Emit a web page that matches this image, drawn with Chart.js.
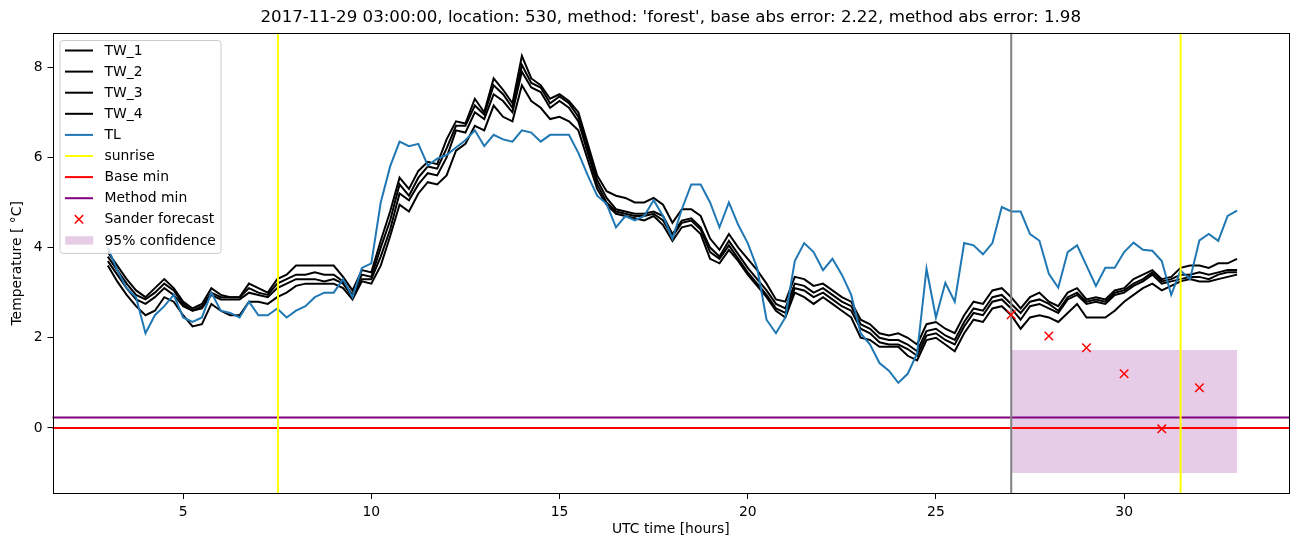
<!DOCTYPE html>
<html>
<head>
<meta charset="utf-8">
<script src="https://cdn.jsdelivr.net/npm/chart.js@4.4.1/dist/chart.umd.min.js"></script>
<style>
  html, body { margin: 0; padding: 0; background: #fff; }
  #wrap { width: 1302px; height: 547px; position: relative; }
</style>
</head>
<body>
<div id="wrap"><canvas id="chart"></canvas></div>
<script>
// time grid (UTC hours, 15 min steps from 03:00 to 33:00)
const hours = Array.from({ length: 121 }, (_, i) => 3 + i * 0.25);

const tw1 = [3.9,3.6,3.3,3.05,2.9,3.1,3.3,3.1,2.8,2.65,2.75,3.1,2.95,2.9,2.9,3.2,3.1,3.0,3.3,3.4,
  3.6,3.6,3.6,3.6,3.6,3.35,3.05,3.5,3.45,4.15,4.8,5.55,5.3,5.7,5.9,5.85,6.4,6.8,6.75,7.3,
  7.0,7.75,7.5,7.2,8.25,7.75,7.6,7.3,7.4,7.25,7.0,6.3,5.6,5.25,5.15,5.1,5.0,5.0,5.1,4.95,
  4.55,4.85,4.85,4.7,4.2,3.95,4.3,4.0,3.75,3.5,3.2,2.85,2.8,3.35,3.3,3.15,3.2,3.05,2.9,2.8,
  2.4,2.3,2.1,2.05,2.1,2.0,1.85,2.3,2.35,2.2,2.1,2.5,2.8,2.75,3.05,3.1,2.9,2.65,2.9,3.0,
  2.8,2.7,3.0,3.1,2.85,2.9,2.85,3.05,3.1,3.3,3.4,3.5,3.3,3.35,3.55,3.6,3.6,3.55,3.65,3.65,3.75];
const tw2 = [3.8,3.5,3.2,2.95,2.85,3.0,3.2,3.05,2.75,2.6,2.7,3.0,2.9,2.9,2.9,3.1,3.0,2.95,3.2,3.3,
  3.4,3.4,3.45,3.4,3.4,3.25,2.95,3.4,3.35,4.0,4.6,5.4,5.15,5.55,5.8,5.75,6.2,6.7,6.7,7.15,
  6.95,7.6,7.4,7.1,8.05,7.65,7.55,7.2,7.35,7.2,6.9,6.2,5.5,5.1,4.85,4.8,4.75,4.75,4.8,4.7,
  4.3,4.6,4.65,4.45,4.0,3.8,4.15,3.85,3.55,3.3,3.05,2.75,2.65,3.2,3.15,3.0,3.1,2.95,2.8,2.7,
  2.3,2.2,2.0,1.95,1.95,1.85,1.7,2.15,2.2,2.05,1.95,2.35,2.65,2.6,2.9,2.95,2.75,2.55,2.8,2.85,
  2.75,2.6,2.9,3.0,2.8,2.85,2.8,3.0,3.05,3.2,3.3,3.45,3.25,3.3,3.4,3.4,3.45,3.4,3.45,3.5,3.5];
const tw3 = [3.7,3.4,3.1,2.85,2.75,2.9,3.1,2.95,2.7,2.6,2.65,2.95,2.85,2.85,2.85,3.0,2.95,2.9,3.1,3.2,
  3.3,3.3,3.3,3.25,3.3,3.2,2.9,3.3,3.3,3.8,4.4,5.2,5.05,5.4,5.65,5.6,6.0,6.6,6.55,7.0,
  6.85,7.4,7.25,7.0,7.9,7.55,7.45,7.1,7.25,7.1,6.8,6.1,5.4,5.0,4.8,4.75,4.7,4.7,4.75,4.6,
  4.25,4.55,4.6,4.4,3.9,3.75,4.05,3.75,3.45,3.2,2.95,2.65,2.55,3.1,3.05,2.9,3.0,2.85,2.7,2.6,
  2.2,2.1,1.9,1.85,1.85,1.75,1.6,2.05,2.1,1.95,1.85,2.25,2.55,2.5,2.8,2.85,2.65,2.4,2.7,2.75,
  2.65,2.55,2.85,2.95,2.75,2.8,2.75,2.95,3.0,3.15,3.25,3.4,3.2,3.25,3.3,3.35,3.35,3.3,3.4,3.45,3.45];
const tw4 = [3.6,3.25,2.95,2.7,2.5,2.6,2.9,2.8,2.5,2.25,2.3,2.75,2.6,2.5,2.5,2.8,2.8,2.75,2.9,3.0,
  3.15,3.2,3.2,3.2,3.2,3.1,2.85,3.25,3.2,3.6,4.25,4.95,4.8,5.2,5.45,5.4,5.6,6.15,6.3,6.7,
  6.6,7.15,6.9,6.8,7.6,7.25,7.1,6.85,6.9,6.8,6.6,5.95,5.3,4.95,4.75,4.7,4.65,4.6,4.7,4.5,
  4.15,4.45,4.5,4.3,3.75,3.65,3.95,3.7,3.4,3.15,2.9,2.6,2.45,3.0,2.9,2.75,2.9,2.75,2.6,2.45,
  2.0,1.95,1.8,1.8,1.8,1.6,1.5,1.95,2.0,1.85,1.7,2.1,2.4,2.35,2.65,2.7,2.5,2.2,2.45,2.5,
  2.45,2.35,2.55,2.75,2.45,2.45,2.45,2.6,2.8,2.95,3.1,3.2,3.05,3.15,3.25,3.3,3.25,3.25,3.3,3.35,3.4];
const tl = [4.0,3.5,3.1,2.9,2.1,2.5,2.7,2.95,2.45,2.35,2.45,3.0,2.6,2.55,2.45,2.8,2.5,2.5,2.65,2.45,
  2.6,2.7,2.9,3.0,3.0,3.3,2.9,3.55,3.65,5.0,5.8,6.35,6.25,6.3,5.82,5.97,6.05,6.22,6.38,6.6,
  6.25,6.5,6.4,6.35,6.6,6.55,6.35,6.5,6.5,6.5,6.1,5.6,5.15,4.97,4.45,4.7,4.6,4.7,5.05,4.7,
  4.2,4.85,5.4,5.4,5.0,4.45,5.0,4.5,4.1,3.55,2.4,2.1,2.45,3.7,4.1,3.9,3.5,3.75,3.4,2.95,
  2.1,1.85,1.44,1.27,1.0,1.2,1.65,3.53,2.45,3.22,2.8,4.1,4.05,3.85,4.1,4.9,4.8,4.8,4.3,4.15,
  3.42,3.11,3.9,4.05,3.6,3.15,3.55,3.55,3.9,4.11,3.95,3.93,3.7,2.95,3.49,3.3,4.16,4.3,4.15,4.7,4.82];

// Sander forecast (hourly, from forecast start)
const forecastHours = [27, 28, 29, 30, 31, 32];
const forecastValues = [2.51, 2.04, 1.78, 1.2, -0.02, 0.89];

// 95% confidence band
const confHours = [27, 33];
const confLow = [-1.0, -1.0];
const confHigh = [1.73, 1.73];

const sunriseHours = [7.52, 31.5];
const forecastStart = 27;
const baseMin = 0.0;
const methodMin = 0.23;

const xTicks = [5, 10, 15, 20, 25, 30];
const yTicks = [0, 2, 4, 6, 8];
const X_MIN = 1.53, X_MAX = 34.38;
const Y_MIN = -1.465, Y_MAX = 8.765;

const FONT = 'DejaVu Sans';
const pts = (xs, ys) => xs.map((x, i) => ({ x: x, y: ys[i] }));

function twLine(label, values) {
  return { label, data: pts(hours, values), borderColor: '#000000', borderWidth: 2,
    pointRadius: 0, order: 6, legendType: 'line' };
}
function vLine(x, color, label, noLegend) {
  return { label, data: [{ x: x, y: Y_MIN - 1 }, { x: x, y: Y_MAX + 1 }], borderColor: color,
    borderWidth: 2, pointRadius: 0, order: 2, legendType: 'line', noLegend };
}
function hLine(y, color, label) {
  return { label, data: [{ x: X_MIN - 1, y: y }, { x: X_MAX + 1, y: y }], borderColor: color,
    borderWidth: 2, pointRadius: 0, order: 3, legendType: 'line' };
}

const datasets = [
  twLine('TW_1', tw1),
  twLine('TW_2', tw2),
  twLine('TW_3', tw3),
  twLine('TW_4', tw4),
  { label: 'TL', data: pts(hours, tl), borderColor: '#1f77b4', borderWidth: 2,
    pointRadius: 0, order: 5, legendType: 'line' },
  vLine(sunriseHours[0], '#ffff00', 'sunrise'),
  vLine(sunriseHours[1], '#ffff00', 'sunrise', true),
  hLine(baseMin, '#ff0000', 'Base min'),
  hLine(methodMin, '#800080', 'Method min'),
  { label: 'Sander forecast', data: pts(forecastHours, forecastValues), showLine: false,
    pointStyle: 'crossRot', pointRadius: 6, pointBorderColor: '#ff0000', pointBorderWidth: 1.5,
    borderColor: '#ff0000', order: 1, legendType: 'marker' },
  { label: '95% confidence', data: pts(confHours, confHigh), borderWidth: 0, pointRadius: 0,
    fill: '+1', backgroundColor: 'rgba(128,0,128,0.2)', order: 20, legendType: 'patch' },
  { label: 'conf low', data: pts(confHours, confLow), borderWidth: 0, pointRadius: 0,
    order: 21, noLegend: true },
  vLine(forecastStart, '#808080', 'forecast start', true)
];

// axes frame + legend box in the upper left of the plot
const framePlugin = {
  id: 'frame',
  afterDraw(chart) {
    const { ctx, chartArea: a } = chart;
    ctx.save();
    ctx.strokeStyle = '#000';
    ctx.lineWidth = 1;
    ctx.strokeRect(Math.round(a.left) + 0.5, Math.round(a.top) + 0.5,
      Math.round(a.right - a.left) - 1, Math.round(a.bottom - a.top) - 1);

    const items = chart.data.datasets.filter(d => d.label && !d.noLegend);
    const x0 = a.left + 7, y0 = a.top + 7.3;
    const rowH = 21.1, w = 161, h = 10.5 + (items.length - 1) * rowH + 12.5;
    ctx.beginPath();
    ctx.roundRect(x0 + 0.5, y0 + 0.5, w, h, 3);
    ctx.fillStyle = 'rgba(255,255,255,0.8)';
    ctx.fill();
    ctx.strokeStyle = '#cccccc';
    ctx.stroke();

    ctx.font = '13.9px "' + FONT + '"';
    ctx.textBaseline = 'middle';
    items.forEach((d, i) => {
      const y = y0 + 10.5 + i * rowH;
      if (d.legendType === 'line') {
        ctx.strokeStyle = d.borderColor;
        ctx.lineWidth = 2;
        ctx.beginPath();
        ctx.moveTo(x0 + 5.5, y);
        ctx.lineTo(x0 + 33.5, y);
        ctx.stroke();
      } else if (d.legendType === 'marker') {
        const cx = x0 + 19.5, r = 4.2;
        ctx.strokeStyle = d.pointBorderColor;
        ctx.lineWidth = 1.5;
        ctx.beginPath();
        ctx.moveTo(cx - r, y - r); ctx.lineTo(cx + r, y + r);
        ctx.moveTo(cx - r, y + r); ctx.lineTo(cx + r, y - r);
        ctx.stroke();
      } else if (d.legendType === 'patch') {
        ctx.fillStyle = d.backgroundColor;
        ctx.fillRect(x0 + 5.7, y - 4.2, 28, 8.4);
      }
      ctx.fillStyle = '#000';
      ctx.fillText(d.label, x0 + 45, y + 0.5);
    });
    ctx.restore();
  }
};

const tickFont = { family: FONT, size: 13.9 };

new Chart(document.getElementById('chart'), {
  type: 'line',
  data: { datasets },
  options: {
    responsive: true,
    maintainAspectRatio: false,
    animation: false,
    parsing: true,
    layout: { padding: { left: 0, right: 13, top: 0, bottom: 0 } },
    plugins: {
      legend: { display: false },
      tooltip: { enabled: false },
      title: {
        display: true,
        fullSize: false,
        text: "2017-11-29 03:00:00, location: 530, method: 'forest', base abs error: 2.22, method abs error: 1.98",
        color: '#000',
        font: { family: FONT, size: 16.67, weight: 'normal' },
        padding: { top: 7.5, bottom: 5.2 }
      }
    },
    scales: {
      x: {
        type: 'linear',
        min: X_MIN,
        max: X_MAX,
        afterBuildTicks: s => { s.ticks = xTicks.map(v => ({ value: v })); },
        afterFit: s => { s.height = 53; },
        ticks: { color: '#000', font: tickFont, padding: 5, maxRotation: 0 },
        grid: { drawOnChartArea: false, drawTicks: true, tickLength: 5, color: '#000', lineWidth: 1 },
        border: { display: false },
        title: { display: true, text: 'UTC time [hours]', color: '#000', font: tickFont,
          padding: { top: 0, bottom: 9.7 } }
      },
      y: {
        type: 'linear',
        min: Y_MIN,
        max: Y_MAX,
        afterBuildTicks: s => { s.ticks = yTicks.map(v => ({ value: v })); },
        afterFit: s => { s.width = 52.5; },
        ticks: { color: '#000', font: tickFont, padding: 5 },
        grid: { drawOnChartArea: false, drawTicks: true, tickLength: 5, color: '#000', lineWidth: 1 },
        border: { display: false },
        title: { display: true, text: 'Temperature [ °C]', color: '#000', font: tickFont,
          padding: { top: 8.7, bottom: 0 } }
      }
    }
  },
  plugins: [framePlugin]
});
</script>
</body>
</html>
